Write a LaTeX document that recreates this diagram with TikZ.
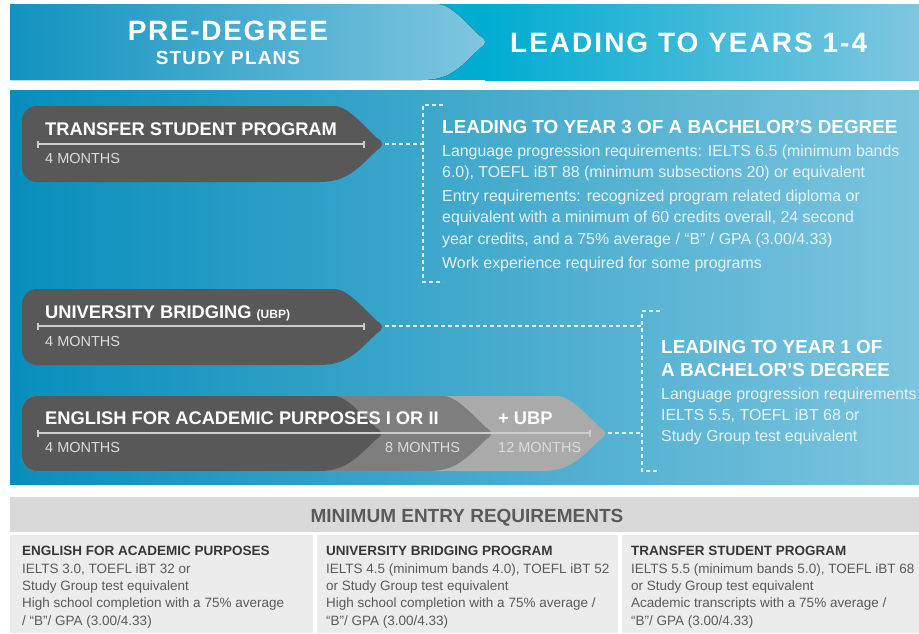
\documentclass[tikz,border=0pt]{standalone}
\usepackage{fontspec}
\setmainfont{Liberation Sans}
\usetikzlibrary
  {
    arrows.meta,              % bar ends on the month rules
    positioning,              % place nodes relative to other nodes
  }

\definecolor{hdark}{RGB}{10,144,189}
\definecolor{hcyan}{RGB}{0,173,209}
\definecolor{hlight}{RGB}{128,198,224}
\definecolor{pdark}{RGB}{8,142,188}
\definecolor{pcyan}{RGB}{0,170,207}
\definecolor{plight}{RGB}{124,196,222}
\definecolor{shapedark}{RGB}{88,88,88}
\definecolor{shapemid}{RGB}{126,126,126}
\definecolor{shapelight}{RGB}{170,170,170}
\definecolor{rulegray}{RGB}{205,205,205}
\definecolor{monthtxt}{RGB}{220,220,220}
\definecolor{bodytxt}{RGB}{230,244,249}
\definecolor{dashcol}{RGB}{225,242,248}
\definecolor{bandgray}{RGB}{217,217,217}
\definecolor{colgray}{RGB}{236,236,236}
\definecolor{headtxt}{RGB}{90,90,90}
\definecolor{coltitle}{RGB}{55,55,55}
\definecolor{coltxt}{RGB}{90,90,90}

% arrow-like program shape: left, tip, top, bottom
\newcommand{\progshape}[4]{%
  ({#2-66},#4) [rounded corners=15pt] -- (#1,#4) -- (#1,#3) -- ({#2-66},#3) [sharp corners]
  .. controls ({#2-40},#3) and ({#2-30},{#3+10}) .. ({#2-8},{(#3+#4)/2-6})
  .. controls ({#2-1},{(#3+#4)/2-2}) and ({#2-1},{(#3+#4)/2+2}) .. ({#2-8},{(#3+#4)/2+6})
  .. controls ({#2-30},{#4-10}) and ({#2-40},#4) .. ({#2-66},#4) -- cycle}

\tikzset{
  dashline/.style={draw=dashcol, line width=1.3pt, dash pattern=on 4pt off 3pt},
  monthrule/.style={draw=rulegray, line width=1.6pt, {Bar[width=7pt]}-{Bar[width=7pt]}},
  hdtitle/.style={inner sep=0pt, text=white,
    font=\bfseries\fontsize{28}{28}\selectfont\addfontfeature{LetterSpace=6}},
  progtitle/.style={anchor=base west, inner sep=0pt, text=white,
    font=\bfseries\fontsize{18.3}{18.3}\selectfont},
  months/.style={anchor=base west, inner sep=0pt, text=monthtxt,
    font=\fontsize{14.5}{14.5}\selectfont},
  leadtitle/.style={anchor=north west, inner sep=0pt, align=left, text=white,
    font=\bfseries\fontsize{18.9}{23}\selectfont},
  body/.style={anchor=north west, inner sep=0pt, align=left, text=bodytxt,
    font=\fontsize{15.9}{21.3}\selectfont},
  coltext/.style={anchor=north west, inner sep=0pt, align=left, text=coltxt,
    font=\fontsize{13.5}{17.3}\selectfont},
}

\begin{document}
\begin{tikzpicture}[x=1pt,y=-1pt]
  \useasboundingbox (0,0) rectangle (919,633);

  % header band
  \begin{scope}
    \clip (10,4) rectangle (919,80);
    \fill[hcyan] (10,4) rectangle (485,80);
    \fill[left color=hcyan, right color=hlight] (485,4) rectangle (919,80);
    \fill[left color=hdark, middle color=hcyan, right color=hlight] \progshape{-20}{488}{4}{80};
  \end{scope}
  \node (predeg) [hdtitle, anchor=base] at (228,40) {PRE-DEGREE};
  \node (plans) [hdtitle, anchor=base, font=\bfseries\fontsize{19}{19}\selectfont\addfontfeature{LetterSpace=6}] at (228,64) {STUDY PLANS};
  \node (years) [hdtitle, anchor=base west, font=\bfseries\fontsize{28}{28}\selectfont\addfontfeature{LetterSpace=7.2}] at (510,52) {LEADING TO YEARS 1-4};

  % blue panel
  \fill[left color=pdark, middle color=pcyan, right color=plight] (10,90) rectangle (919,484);

  % transfer student program
  \fill[shapedark] \progshape{22}{385}{106}{182};
  \coordinate (tsp tip) at (385,144);
  \node (tsp) [progtitle] at (45,135) {TRANSFER STUDENT PROGRAM};
  \draw[monthrule] (37,144) -- (365,144);
  \node (tsp months) [months] at (45,163) {4 MONTHS};

  % university bridging
  \fill[shapedark] \progshape{22}{385}{289}{365};
  \coordinate (ubp tip) at (385,326);
  \node (ubp) [progtitle] at (45,318) {UNIVERSITY BRIDGING {\fontsize{12}{12}\selectfont(UBP)}};
  \draw[monthrule] (37,326) -- (365,326);
  \node (ubp months) [months] at (45,346) {4 MONTHS};

  % english for academic purposes
  \fill[shapelight] \progshape{22}{608}{396}{471};
  \fill[shapemid] \progshape{22}{494}{396}{471};
  \fill[shapedark] \progshape{22}{384}{396}{471};
  \coordinate (eap tip) at (608,433);
  \node (eap) [progtitle] at (45,424) {ENGLISH FOR ACADEMIC PURPOSES I OR II};
  \node (plus ubp) [progtitle] at (498,424) {+ UBP};
  \draw[monthrule] (37,433) -- (591,433);
  \node (eap m4) [months] at (45,452) {4 MONTHS};
  \node (eap m8) [months] at (385,452) {8 MONTHS};
  \node (eap m12) [months] at (498,452) {12 MONTHS};

  % brackets and links
  \coordinate (year3) at (423,144);
  \coordinate (year1 a) at (642,326);
  \coordinate (year1 b) at (642,433);
  \draw[dashline] (tsp tip) -- (year3);
  \draw[dashline] (443,105) -- (423,105) -- (423,282) -- (443,282);
  \draw[dashline] (ubp tip) -- (year1 a);
  \draw[dashline] (eap tip) -- (year1 b);
  \draw[dashline] (660,311) -- (642,311) -- (642,471) -- (660,471);

  % leading to year 3
  \node (lead3) [progtitle, font=\bfseries\fontsize{18.9}{18.9}\selectfont] at (442,133) {LEADING TO YEAR 3 OF A BACHELOR’S DEGREE};
  \node (lead3 text) [body] at (442,144.5)
    {Language progression requirements: IELTS 6.5 (minimum bands\\
     6.0), TOEFL iBT 88 (minimum subsections 20) or equivalent\\[2.7pt]
     Entry requirements: recognized program related diploma or\\
     equivalent with a minimum of 60 credits overall, 24 second\\
     year credits, and a 75\% average / ``B'' / GPA (3.00/4.33)\\[2.7pt]
     Work experience required for some programs};

  % leading to year 1
  \node (lead1) [leadtitle] at (661,340.5) {LEADING TO YEAR 1 OF\\A BACHELOR’S DEGREE};
  \node (lead1 text) [body] at (661,387.6)
    {Language progression requirements\\
     IELTS 5.5, TOEFL iBT 68 or\\
     Study Group test equivalent};

  % minimum entry requirements
  \fill[bandgray] (10,497) rectangle (919,532);
  \node (minreq) [anchor=base, inner sep=0pt, text=headtxt, font=\bfseries\fontsize{19}{19}\selectfont] at (467,522) {MINIMUM ENTRY REQUIREMENTS};
  \fill[colgray] (10,535) rectangle (313,633);
  \fill[colgray] (317,535) rectangle (618,633);
  \fill[colgray] (622,535) rectangle (919,633);
  \node (req eap) [coltext] at (22,546.3)
    {\textcolor{coltitle}{\bfseries ENGLISH FOR ACADEMIC PURPOSES}\\
     IELTS 3.0, TOEFL iBT 32 or\\
     Study Group test equivalent\\
     High school completion with a 75\% average\\
     / ``B''/ GPA (3.00/4.33)};
  \node (req ubp) [coltext] at (326,546.3)
    {\textcolor{coltitle}{\bfseries UNIVERSITY BRIDGING PROGRAM}\\
     IELTS 4.5 (minimum bands 4.0), TOEFL iBT 52\\
     or Study Group test equivalent\\
     High school completion with a 75\% average /\\
     ``B''/ GPA (3.00/4.33)};
  \node (req tsp) [coltext] at (631,546.3)
    {\textcolor{coltitle}{\bfseries TRANSFER STUDENT PROGRAM}\\
     IELTS 5.5 (minimum bands 5.0), TOEFL iBT 68\\
     or Study Group test equivalent\\
     Academic transcripts with a 75\% average /\\
     ``B''/ GPA (3.00/4.33)};
\end{tikzpicture}
\end{document}
